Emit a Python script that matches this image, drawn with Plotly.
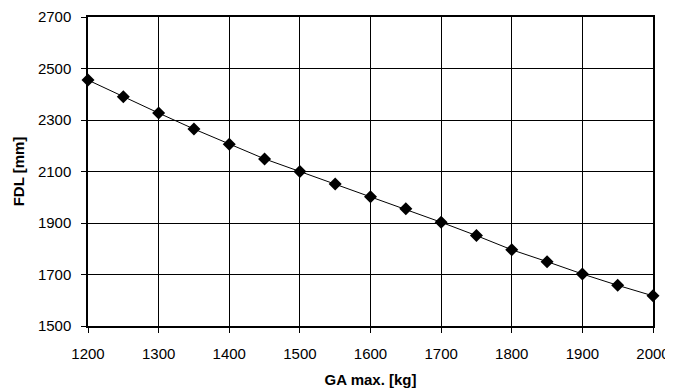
import plotly.graph_objects as go

ga_max = [1200, 1250, 1300, 1350, 1400, 1450, 1500, 1550, 1600,
          1650, 1700, 1750, 1800, 1850, 1900, 1950, 2000]
fdl = [2455, 2390, 2327, 2265, 2206, 2149, 2100, 2051, 2002,
       1955, 1903, 1851, 1796, 1750, 1702, 1658, 1617]

schrift = 'Liberation Sans, Arial'

fig = go.Figure()
fig.add_trace(go.Scatter(
    x=ga_max, y=fdl, mode='lines+markers',
    line=dict(color='black', width=1),
    marker=dict(symbol='diamond', size=10, color='black'),
    cliponaxis=False, showlegend=False
))

achse = dict(
    showline=True, linecolor='black', linewidth=1.5, mirror=True,
    showgrid=True, gridcolor='black', gridwidth=1,
    ticks='outside', ticklen=5, tickcolor='black',
    tickfont=dict(family=schrift, size=15, color='black'),
    zeroline=False, automargin=False
)

# Seite hat 8px Rand im Browser -> Ränder entsprechend verschoben
fig.update_layout(
    width=673, height=389,
    margin=dict(l=80, r=28, t=9, b=71),
    paper_bgcolor='white', plot_bgcolor='white',
    xaxis=dict(range=[1200, 2000], tick0=1200, dtick=100, ticklabelstandoff=8,
               title=dict(text='<b>GA max. [kg]</b>', standoff=14,
                          font=dict(family=schrift, size=15, color='black')),
               **achse),
    yaxis=dict(range=[1500, 2700], tick0=1500, dtick=200, ticklabelstandoff=7,
               title=dict(text='<b>FDL [mm]</b>', standoff=10,
                          font=dict(family=schrift, size=15, color='black')),
               **achse),
)

fig.write_html("out.html")
